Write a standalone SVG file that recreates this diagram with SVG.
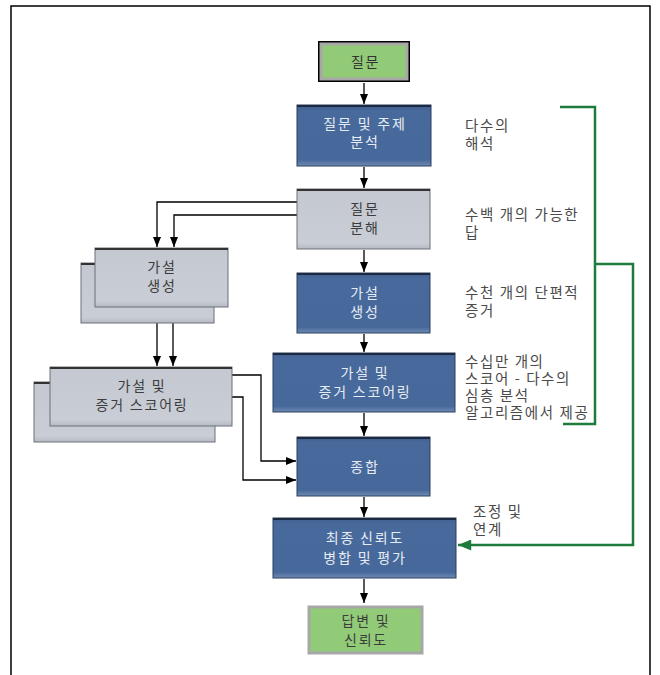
<svg xmlns="http://www.w3.org/2000/svg" width="660" height="675" viewBox="0 0 660 675">
<defs>
<linearGradient id="gBlue" x1="0" y1="0" x2="0" y2="1">
<stop offset="0" stop-color="#3f5f8f"/>
<stop offset="0.1" stop-color="#48699b"/>
<stop offset="0.9" stop-color="#46689a"/>
<stop offset="1" stop-color="#6f8bb3"/>
</linearGradient>
<linearGradient id="gGray" x1="0" y1="0" x2="0" y2="1">
<stop offset="0" stop-color="#c4c8d0"/>
<stop offset="0.9" stop-color="#c9cdd5"/>
<stop offset="1" stop-color="#b5b9c1"/>
</linearGradient>
<marker id="ah" viewBox="0 0 10 8" refX="10" refY="4" markerWidth="10" markerHeight="8" markerUnits="userSpaceOnUse" orient="auto">
<path d="M0,0 L10,4 L0,8 Z" fill="#000"/>
</marker>
<marker id="ahg" viewBox="0 0 12 10" refX="12" refY="5" markerWidth="14" markerHeight="11" markerUnits="userSpaceOnUse" orient="auto">
<path d="M0,0 L12,5 L0,10 Z" fill="#1e7b3c"/>
</marker>
</defs>
<style>
text{font-family:"Noto Sans CJK KR","Noto Sans",sans-serif;font-size:14px;}
.blue{fill:url(#gBlue);stroke:#2b3f60;stroke-width:1;}
.bluetop{stroke:#1c2a40;stroke-width:2;}
.gray{fill:url(#gGray);stroke:#6d7178;stroke-width:1;}
.graytop{stroke:#333;stroke-width:2;}
.green{fill:#92cb78;stroke:#a7a7a7;stroke-width:3;}
.wt{fill:#e6ecf4;text-anchor:middle;letter-spacing:1.8px;}
.dt{fill:#3c3c3c;text-anchor:middle;letter-spacing:1.8px;}
.side{fill:#4a4a4a;letter-spacing:1.6px;font-size:14.5px;}
.conn{fill:none;stroke:#000;stroke-width:1.3;marker-end:url(#ah);}
.gl{fill:none;stroke:#1e7b3c;stroke-width:2.5;}
</style>
<rect width="660" height="675" fill="#fff"/>
<path d="M11,675 V6 H650 V675" fill="none" stroke="#000" stroke-width="1.5"/>

<g id="connectors">
<path class="conn" d="M364,83 V104"/>
<path class="conn" d="M364,167 V188"/>
<path class="conn" d="M364,250 V272"/>
<path class="conn" d="M364,334 V352"/>
<path class="conn" d="M364,413 V436"/>
<path class="conn" d="M364,497 V517"/>
<path class="conn" d="M364,579 V603"/>
<path class="conn" d="M297,202 H157 V247"/>
<path class="conn" d="M297,215 H174 V247"/>
<path class="conn" d="M157,307 V366"/>
<path class="conn" d="M173,307 V366"/>
<path class="conn" d="M232,375 H261 V461 H296"/>
<path class="conn" d="M232,397 H243 V480 H296"/>
<path class="gl" d="M560,107 H595 V424 H563"/>
<path class="gl" d="M595,264 H633 V545 H458" marker-end="url(#ahg)"/>
</g>

<g id="n-question">
<rect x="318" y="41" width="92" height="41" fill="#000"/>
<rect x="321" y="44" width="86" height="35" class="green"/>
<text x="351" y="67" fill="#333" letter-spacing="1.5">질문</text>
</g>

<g id="n-analysis">
<rect x="297" y="105" width="134" height="61" class="blue"/>
<path d="M297,106 H431" class="bluetop"/>
<text class="wt" x="365" y="129">질문 및 주제</text>
<text class="wt" x="365" y="147">분석</text>
</g>

<g id="n-decomp">
<rect x="297" y="189" width="133" height="60" class="gray"/>
<path d="M297,190 H430" class="graytop"/>
<text class="dt" x="365" y="214">질문</text>
<text class="dt" x="365" y="233">분해</text>
</g>

<g id="n-hypgen">
<rect x="297" y="273" width="133" height="60" class="blue"/>
<path d="M297,274 H430" class="bluetop"/>
<text class="wt" x="365" y="298">가설</text>
<text class="wt" x="365" y="317">생성</text>
</g>

<g id="n-hypgen-left">
<rect x="81" y="263" width="133" height="60" class="gray"/>
<path d="M81,264 H95" class="graytop"/>
<rect x="95" y="248" width="133" height="59" class="gray"/>
<path d="M95,249 H228" class="graytop"/>
<text class="dt" x="162" y="272">가설</text>
<text class="dt" x="162" y="291">생성</text>
</g>

<g id="n-score">
<rect x="273" y="353" width="182" height="59" class="blue"/>
<path d="M273,354 H455" class="bluetop"/>
<text class="wt" x="365" y="378">가설 및</text>
<text class="wt" x="365" y="397">증거 스코어링</text>
</g>

<g id="n-score-left">
<rect x="34" y="382" width="181" height="60" class="gray"/>
<path d="M34,383 H50" class="graytop"/>
<rect x="50" y="367" width="182" height="59" class="gray"/>
<path d="M50,368 H232" class="graytop"/>
<text class="dt" x="142" y="391">가설 및</text>
<text class="dt" x="142" y="410">증거 스코어링</text>
</g>

<g id="n-synth">
<rect x="297" y="437" width="133" height="59" class="blue"/>
<path d="M297,438 H430" class="bluetop"/>
<text class="wt" x="365" y="472">종합</text>
</g>

<g id="n-final">
<rect x="273" y="518" width="183" height="60" class="blue"/>
<path d="M273,519 H456" class="bluetop"/>
<text class="wt" x="365" y="543">최종 신뢰도</text>
<text class="wt" x="365" y="563">병합 및 평가</text>
</g>

<g id="n-answer">
<rect x="309" y="607" width="113" height="46" class="green"/>
<text class="dt" x="366" y="626" fill="#333">답변 및</text>
<text class="dt" x="366" y="645" fill="#333">신뢰도</text>
</g>

<g id="labels">
<text class="side" x="465" y="131">다수의</text>
<text class="side" x="465" y="149">해석</text>
<text class="side" x="465" y="220">수백 개의 가능한</text>
<text class="side" x="465" y="238">답</text>
<text class="side" x="465" y="298">수천 개의 단편적</text>
<text class="side" x="465" y="316">증거</text>
<text class="side" x="465" y="367">수십만 개의</text>
<text class="side" x="465" y="384">스코어 - 다수의</text>
<text class="side" x="465" y="401">심층 분석</text>
<text class="side" x="465" y="418">알고리즘에서 제공</text>
<text class="side" x="473" y="517">조정 및</text>
<text class="side" x="473" y="535">연계</text>
</g>
</svg>
